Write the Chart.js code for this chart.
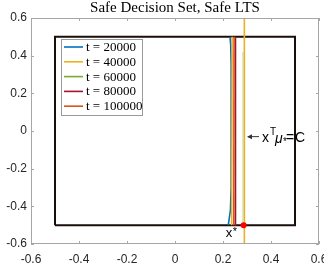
<!DOCTYPE html>
<html>
<head>
<meta charset="utf-8">
<script src="https://cdn.jsdelivr.net/npm/chart.js@4.4.0/dist/chart.umd.min.js"></script>
<style>
html,body{margin:0;padding:0;background:#fff;}
#wrap{width:324px;height:279px;}
</style>
</head>
<body>
<div id="wrap"><canvas id="c" width="324" height="279"></canvas></div>
<script>
// ---- data ----
const titleText = 'Safe Decision Set, Safe LTS';
const seriesLabels = ['t = 20000', 't = 40000', 't = 60000', 't = 80000', 't = 100000'];
const seriesColors = ['#0072BD', '#EDB120', '#77AC30', '#A2142F', '#D95319'];
const t20000X = [0.222, 0.231, 0.234, 0.234, 0.232, 0.229];
const t20000Y = [-0.5, -0.42, -0.3, 0.35, 0.46, 0.5];
const t40000X = [0.236, 0.238];
const t40000Y = [-0.5, 0.5];
const t60000X = [0.283, 0.283];
const t60000Y = [-0.5, 0.42];
const t80000X = [0.251, 0.252];
const t80000Y = [-0.5, 0.5];
const t100000X = [0.245, 0.246];
const t100000Y = [-0.5, 0.5];
const boxX = [-0.5, 0.5, 0.5, -0.5, -0.5];
const boxY = [-0.5, -0.5, 0.5, 0.5, -0.5];
const constraintX = [0.289, 0.289];
const constraintY = [-0.6, 0.6];
const xStarX = [0.286];
const xStarY = [-0.5];
const tickValues = [-0.6, -0.4, -0.2, 0, 0.2, 0.4, 0.6];

const pts = (xs, ys) => xs.map((x, i) => ({x: x, y: ys[i]}));
const seriesX = [t20000X, t40000X, t60000X, t80000X, t100000X];
const seriesY = [t20000Y, t40000Y, t60000Y, t80000Y, t100000Y];

const datasets = [];
datasets.push({label: 'x*', data: pts(xStarX, xStarY), showLine: false, pointRadius: 3,
  pointBackgroundColor: '#ff0000', pointBorderColor: '#ff0000', pointBorderWidth: 0, order: 0});
seriesLabels.forEach((lab, i) => {
  datasets.push({label: lab, data: pts(seriesX[i], seriesY[i]), showLine: true, pointRadius: 0,
    borderColor: i === 2 ? 'rgba(119,172,48,0.45)' : seriesColors[i], legendColor: seriesColors[i],
    borderWidth: i === 2 ? 1 : 1.6, tension: 0, order: 2 + (5 - i), isSeries: true});
});
datasets.push({label: 'constraint', data: pts(constraintX, constraintY), showLine: true, pointRadius: 0,
  borderColor: '#EDB120', borderWidth: 1.6, order: 1});
datasets.push({label: 'box', data: pts(boxX, boxY), showLine: true, pointRadius: 0,
  borderColor: '#1a0e0a', borderWidth: 2, order: 10});

const decor = {
  id: 'decor',
  afterDatasetsDraw(chart) {
    const ctx = chart.ctx;
    const a = chart.chartArea;
    const xs = chart.scales.x, ys = chart.scales.y;
    ctx.save();
    // axes box
    ctx.strokeStyle = '#a6a6a6';
    ctx.lineWidth = 1;
    ctx.strokeRect(a.left + 0.5, a.top + 0.5, a.right - a.left - 1, a.bottom - a.top - 1);
    // inward ticks
    ctx.beginPath();
    tickValues.forEach(v => {
      const px = Math.round(xs.getPixelForValue(v)) + 0.5;
      ctx.moveTo(px, a.bottom); ctx.lineTo(px, a.bottom - 3);
      ctx.moveTo(px, a.top); ctx.lineTo(px, a.top + 3);
      const py = Math.round(ys.getPixelForValue(v)) + 0.5;
      ctx.moveTo(a.left, py); ctx.lineTo(a.left + 3, py);
      ctx.moveTo(a.right, py); ctx.lineTo(a.right - 3, py);
    });
    ctx.stroke();
    // title
    ctx.fillStyle = '#000';
    ctx.font = '15px "Liberation Serif", "DejaVu Serif", serif';
    ctx.textAlign = 'center';
    ctx.textBaseline = 'alphabetic';
    ctx.fillText(titleText, (a.left + a.right) / 2, 12);
    // legend
    const lx = a.left + 30, ly = a.top + 21, lw = 81, lh = 76;
    ctx.fillStyle = '#fff';
    ctx.fillRect(lx, ly, lw, lh);
    ctx.strokeStyle = '#9a9a9a';
    ctx.lineWidth = 1;
    ctx.strokeRect(lx + 0.5, ly + 0.5, lw, lh);
    ctx.font = '13px "Liberation Serif", "DejaVu Serif", serif';
    ctx.textAlign = 'left';
    ctx.textBaseline = 'middle';
    const ser = chart.data.datasets.filter(d => d.isSeries);
    ser.forEach((d, i) => {
      const y = ly + 8 + i * 14.8;
      ctx.strokeStyle = d.legendColor;
      ctx.lineWidth = 1.6;
      ctx.beginPath(); ctx.moveTo(lx + 3, y); ctx.lineTo(lx + 22, y); ctx.stroke();
      ctx.fillStyle = '#000';
      ctx.fillText(d.label, lx + 25, y + 0.5);
    });
    // annotation x^T mu_* = C with arrow
    const tipX = xs.getPixelForValue(0.3), tipY = ys.getPixelForValue(-0.03);
    ctx.strokeStyle = '#333';
    ctx.fillStyle = '#333';
    ctx.lineWidth = 1;
    ctx.beginPath(); ctx.moveTo(tipX + 1, tipY); ctx.lineTo(tipX + 12, tipY); ctx.stroke();
    ctx.beginPath(); ctx.moveTo(tipX, tipY); ctx.lineTo(tipX + 5, tipY - 2.5); ctx.lineTo(tipX + 5, tipY + 2.5); ctx.closePath(); ctx.fill();
    ctx.fillStyle = '#000';
    ctx.textBaseline = 'alphabetic';
    ctx.textAlign = 'left';
    const base = tipY + 5;
    ctx.font = '14px "Liberation Sans", Arial, sans-serif';
    ctx.fillText('x', tipX + 15, base);
    ctx.font = '10px "Liberation Sans", Arial, sans-serif';
    ctx.fillText('T', tipX + 23, base - 7);
    ctx.font = 'italic 14px "Liberation Sans", Arial, sans-serif';
    ctx.fillText('\u03bc', tipX + 28, base + 1);
    ctx.font = '10px "Liberation Sans", Arial, sans-serif';
    ctx.fillText('*', tipX + 36, base + 3);
    ctx.font = '14px "Liberation Sans", Arial, sans-serif';
    ctx.fillText('=', tipX + 39, base);
    ctx.fillText('C', tipX + 48, base);
    // x* label
    const dx = xs.getPixelForValue(xStarX[0]), dy = ys.getPixelForValue(xStarY[0]);
    ctx.font = '13px "Liberation Sans", Arial, sans-serif';
    ctx.textAlign = 'left';
    ctx.fillText('x', dx - 18, dy + 12);
    ctx.font = '11px "Liberation Sans", Arial, sans-serif';
    ctx.fillText('*', dx - 11, dy + 10);
    ctx.restore();
  }
};

new Chart(document.getElementById('c'), {
  type: 'scatter',
  data: {datasets: datasets},
  options: {
    responsive: false,
    animation: false,
    devicePixelRatio: 1,
    layout: {padding: {top: 18, right: 5, left: 0, bottom: 0}},
    plugins: {legend: {display: false}, title: {display: false}, tooltip: {enabled: false}},
    scales: {
      x: {
        type: 'linear', min: -0.6, max: 0.6,
        afterBuildTicks: s => { s.ticks = tickValues.map(v => ({value: v})); },
        afterFit: s => { s.height = 35; s.paddingLeft = 0; s.paddingRight = 0; },
        grid: {display: false, drawTicks: false},
        border: {display: false},
        ticks: {padding: 8, color: '#262626', maxRotation: 0, autoSkip: false,
          font: {family: '"Liberation Sans", Arial, sans-serif', size: 12},
          callback: v => (Math.abs(v) < 1e-9 ? '0' : String(Math.round(v * 10) / 10))}
      },
      y: {
        type: 'linear', min: -0.6, max: 0.6,
        afterBuildTicks: s => { s.ticks = tickValues.map(v => ({value: v})); },
        afterFit: s => { s.width = 31; s.paddingTop = 0; s.paddingBottom = 0; },
        grid: {display: false, drawTicks: false},
        border: {display: false},
        ticks: {padding: 4, color: '#262626', autoSkip: false,
          font: {family: '"Liberation Sans", Arial, sans-serif', size: 12},
          callback: v => (Math.abs(v) < 1e-9 ? '0' : String(Math.round(v * 10) / 10))}
      }
    }
  },
  plugins: [decor]
});
</script>
</body>
</html>
